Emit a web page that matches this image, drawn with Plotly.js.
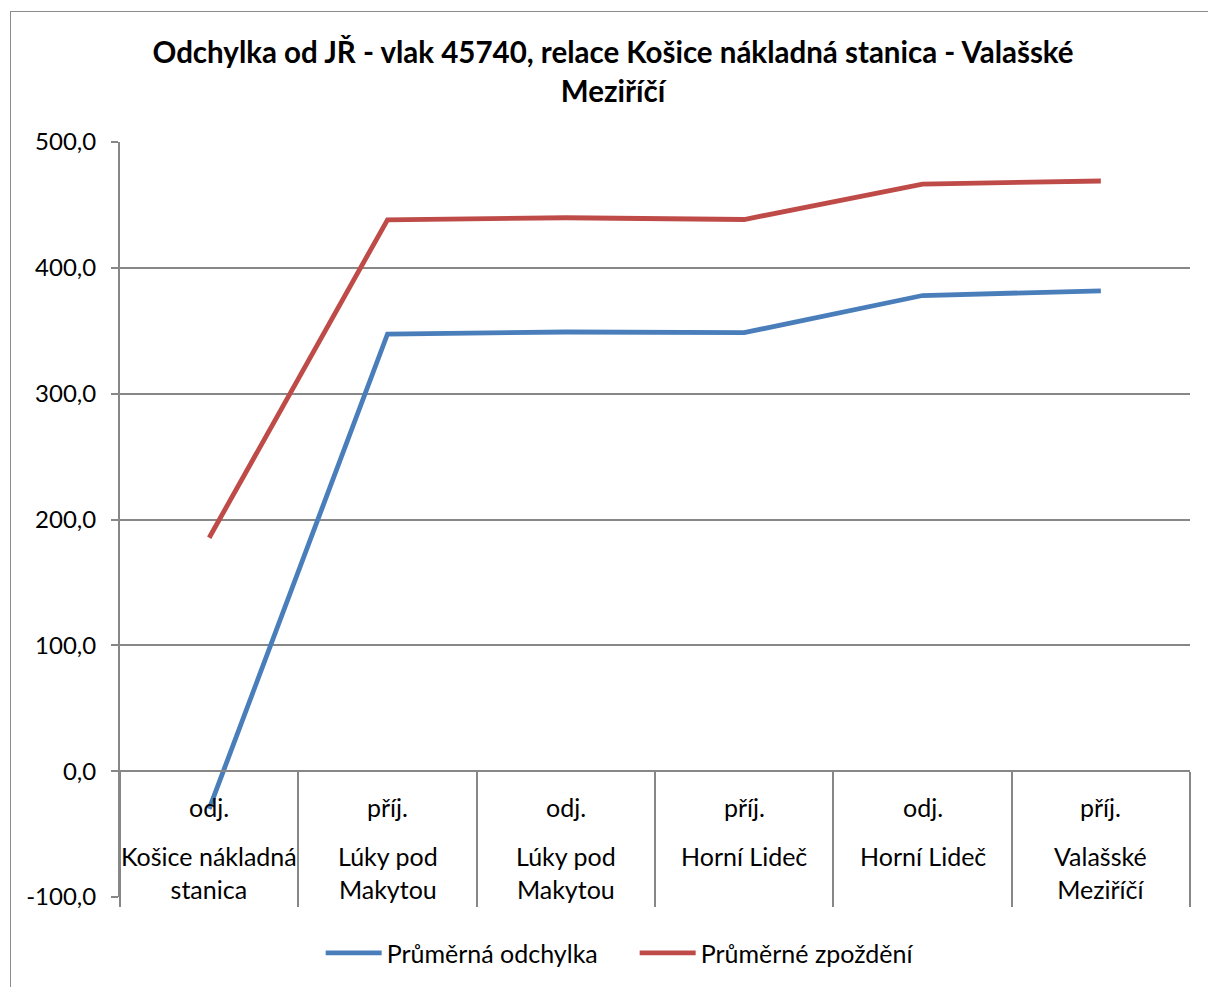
<!DOCTYPE html>
<html>
<head>
<meta charset="utf-8">
<script src="https://cdn.plot.ly/plotly-3.0.1.min.js"></script>
<style>
  html, body { margin: 0; padding: 0; background: #ffffff; }
  #wrap { position: relative; width: 1208px; height: 987px; overflow: hidden; }
  #frame { position: absolute; left: 10px; top: 11px; width: 1300px; height: 1100px; border: 1px solid #8c8c8c; box-sizing: border-box; pointer-events: none; }
  #chart { position: absolute; left: 0; top: 0; width: 1208px; height: 987px; }
</style>
</head>
<body>
<div id="wrap">
  <div id="chart"></div>
  <div id="frame"></div>
</div>
<script>
const stopType = ['odj.', 'příj.', 'odj.', 'příj.', 'odj.', 'příj.'];
const stations = ['Košice nákladná<br>stanica', 'Lúky pod<br>Makytou', 'Lúky pod<br>Makytou', 'Horní Lideč', 'Horní Lideč', 'Valašské<br>Meziříčí'];
const avgDeviation = [-30, 347.4, 349.0, 348.5, 378.0, 381.7];
const avgDelay = [185.5, 438.2, 439.8, 438.4, 466.6, 469.0];
const seriesNames = ['Průměrná odchylka', 'Průměrné zpoždění'];
const yTickVals = [-100, 0, 100, 200, 300, 400, 500];
const yTickText = ['-100,0', '0,0', '100,0', '200,0', '300,0', '400,0', '500,0'];
const titleText = 'Odchylka od JŘ - vlak 45740, relace Košice nákladná stanica - Valašské<br>Meziříčí';

const categories = stopType.map((t, i) => t + ' ' + stations[i].replace('<br>', ' '));
const FONT = 'Lato, "Open Sans", sans-serif';
const GRID = '#878787';

const traces = [
  { x: categories, y: avgDeviation, name: seriesNames[0], type: 'scatter', mode: 'lines',
    line: { color: '#4a7ebb', width: 4.8 } },
  { x: categories, y: avgDelay, name: seriesNames[1], type: 'scatter', mode: 'lines',
    line: { color: '#be4b48', width: 4.8 } }
];

const annotations = [];
categories.forEach((c, i) => {
  annotations.push({ x: c, y: -28.5, xref: 'x', yref: 'y', text: stopType[i], showarrow: false,
    yanchor: 'middle', font: { family: FONT, size: 25, color: '#000' } });
  annotations.push({ x: c, y: -54, xref: 'x', yref: 'y', text: stations[i], showarrow: false,
    yanchor: 'top', font: { family: FONT, size: 25, color: '#000' } });
});

const layout = {
  width: 1208, height: 987,
  paper_bgcolor: 'rgba(0,0,0,0)', plot_bgcolor: 'rgba(0,0,0,0)',
  margin: { l: 120, r: 18, t: 142, b: 89 },
  font: { family: FONT, size: 24, color: '#000' },
  title: { text: titleText, font: { family: FONT, size: 29.5, color: '#000', weight: 'bold' },
    xref: 'container', yref: 'container', x: 0.5075, xanchor: 'center', y: 0.936, yanchor: 'middle' },
  showlegend: true,
  legend: { orientation: 'h', x: 0.481, xanchor: 'center', y: -0.073, yanchor: 'middle',
    font: { family: FONT, size: 25, color: '#000' }, itemwidth: 56,
    entrywidth: 243, entrywidthmode: 'pixels', bgcolor: 'rgba(0,0,0,0)' },
  xaxis: { type: 'category', anchor: 'free', position: 1 / 6, range: [-0.5, 5.5],
    showline: true, linecolor: GRID, linewidth: 2, showgrid: false, zeroline: false,
    tickson: 'boundaries', ticks: 'outside', ticklen: 135, tickcolor: GRID, tickwidth: 2,
    showticklabels: false, fixedrange: true },
  yaxis: { range: [-100, 500], tickmode: 'array', tickvals: yTickVals, ticktext: yTickText,
    showline: true, linecolor: GRID, linewidth: 2, ticks: 'outside', ticklen: 7, tickcolor: GRID, tickwidth: 2,
    showgrid: true, gridcolor: GRID, gridwidth: 2, zeroline: false, ticklabelstandoff: 10,
    tickfont: { family: FONT, size: 24, color: '#000' }, fixedrange: true },
  annotations: annotations
};

Plotly.newPlot('chart', traces, layout, { displayModeBar: false, staticPlot: true });
</script>
</body>
</html>
